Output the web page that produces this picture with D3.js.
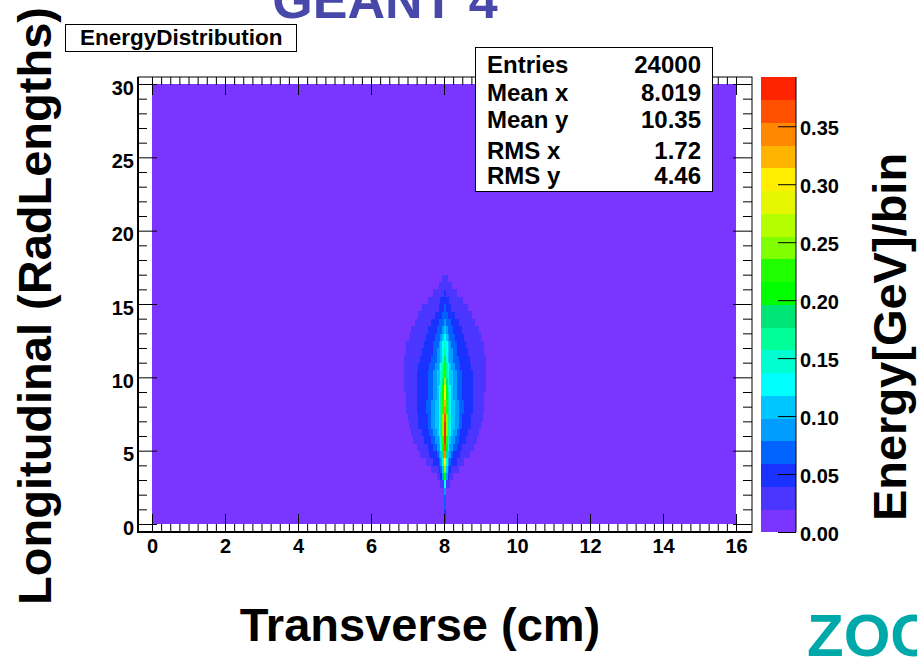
<!DOCTYPE html>
<html>
<head>
<meta charset="utf-8">
<script src="https://cdn.jsdelivr.net/npm/d3@7"></script>
<style>
  html, body { margin: 0; padding: 0; background: #ffffff; }
  svg { display: block; }
  text { font-family: "Liberation Sans", Arial, Helvetica, sans-serif; font-weight: bold; }
</style>
</head>
<body>
<svg id="chart" width="917" height="659"></svg>
<script>
// ---- histogram definition ----
const xRange = [0, 16];          // transverse, cm
const yRange = [0, 30];          // longitudinal, radiation lengths
const xBinWidth = 0.05;
const yBinWidth = 0.5;
const zMax = 0.3925;             // GeV per bin, top of the colour scale
const nLevels = 20;

// contour colours, lowest to highest
const palette = [
  "#7a36ff", "#4a36ff", "#1a32ff", "#0062ff", "#009dff",
  "#00c6ff", "#00ffff", "#00ffd0", "#00ff99", "#00e676",
  "#00ff00", "#20ff00", "#80ff00", "#b3ff00", "#e6f500",
  "#ffee00", "#ffb400", "#ff8800", "#ff5000", "#ff2400"
];

// Shower bins above the lowest contour, one entry per longitudinal bin (from y = 0 upward).
// showerFirstBin: transverse bin index of the first listed bin;
// showerLevels: contour level of each consecutive bin (0-9, then a-j for 10-19).
const showerFirstBin = [
  160, 160, 160, 160, 160, 158, 156, 153, 150, 147,
  145, 143, 142, 141, 140, 139, 139, 139, 138, 138,
  138, 138, 138, 139, 139, 141, 142, 144, 146, 148,
  151, 154, 157, 159
];
const showerLevels = [
  "2",
  "2",
  "3",
  "3",
  "4",
  "11611",
  "1124a4211",
  "1111235c5321111",
  "1111222347f7432221111",
  "1111122223459h9543222211111",
  "11111122233446aia64433222111111",
  "1111112222334457bjb7544332222111111",
  "11111122223344568cjc86544332222111111",
  "111112222233445568cjc865544332222211111",
  "1111112222233445578cic8755443322222111111",
  "11111122222333445568bhb86554433322222111111",
  "11111122222333445568bgb86554433322222111111",
  "11111122222233344568afa86544333222222111111",
  "111111122222233344567aea765443332222221111111",
  "1111111222222333445579c9755443332222221111111",
  "1111111222222333445578b8755443332222221111111",
  "1111111122222233344568a8654433322222211111111",
  "111111111222222333445797544333222222111111111",
  "1111111112222223344568654433222222111111111",
  "1111111111222223334567654333222221111111111",
  "111111111222223334565433322222111111111",
  "1111111112222233345433322222111111111",
  "111111111222233343332222111111111",
  "11111111122223332222111111111",
  "1111111112223222111111111",
  "1111111222221111111",
  "1111112111111",
  "1111111",
  "111"
];

// axis ticks
const xMajor = [0, 2, 4, 6, 8, 10, 12, 14, 16];
const xMinor = d3.range(0, 16.001, 0.25).filter(v => Math.abs(v / 2 - Math.round(v / 2)) > 1e-6);
const yMajor = [0, 5, 10, 15, 20, 25, 30];
const yMinor = d3.range(0, 30.001, 1).filter(v => v % 5 !== 0);
const zTicks = [0, 0.05, 0.10, 0.15, 0.20, 0.25, 0.30, 0.35];

// statistics box
const statsLabels = ["Entries", "Mean x", "Mean y", "RMS x", "RMS y"];
const statsValues = ["24000", "8.019", "10.35", "1.72", "4.46"];

// ---- layout ----
const svg = d3.select("#chart");
const frame = { left: 138, right: 752, top: 77, bottom: 532 };
const tickFont = 20;

const x = d3.scaleLinear().domain(xRange).range([152, 736]);
const y = d3.scaleLinear().domain(yRange).range([524, 84]);
const z = d3.scaleLinear().domain([0, zMax]).range([532, 77]);
const colour = d3.scaleQuantize().domain([0, zMax]).range(palette);

const levelOf = ch => parseInt(ch, 36);
const levelValue = lv => (lv + 0.5) * zMax / nLevels;

// expand the shower rows into cells
const cells = [];
showerLevels.forEach((row, j) => {
  row.split("").forEach((ch, k) => {
    const i = showerFirstBin[j] + k;
    cells.push({
      x0: i * xBinWidth, x1: (i + 1) * xBinWidth,
      y0: j * yBinWidth, y1: (j + 1) * yBinWidth,
      value: levelValue(levelOf(ch))
    });
  });
});

// ---- plot area ----
const plot = svg.append("g");

// every bin of the histogram sits at least in the lowest contour
plot.append("rect")
  .attr("x", x(xRange[0])).attr("y", y(yRange[1]))
  .attr("width", x(xRange[1]) - x(xRange[0]))
  .attr("height", y(yRange[0]) - y(yRange[1]))
  .attr("fill", colour(levelValue(0)));

plot.selectAll("rect.cell")
  .data(cells)
  .join("rect")
  .attr("class", "cell")
  .attr("x", d => x(d.x0))
  .attr("y", d => y(d.y1))
  .attr("width", d => x(d.x1) - x(d.x0) + 0.3)
  .attr("height", d => y(d.y0) - y(d.y1) + 0.3)
  .attr("fill", d => colour(d.value))
  .attr("shape-rendering", "crispEdges");

// ---- axes ----
const stripDomain = g => g.select(".domain").remove();
const tickStyle = g => g.selectAll(".tick line").attr("stroke", "#000").attr("stroke-width", 1);
const labelStyle = sel => sel
  .attr("font-size", tickFont).attr("font-family", "Liberation Sans, Arial, sans-serif")
  .attr("font-weight", "bold").attr("fill", "#000");

function axisGroup(axis, tx, ty) {
  return svg.append("g")
    .attr("transform", `translate(${tx},${ty})`)
    .call(axis)
    .call(stripDomain)
    .call(tickStyle);
}

// left
const yLeft = axisGroup(d3.axisLeft(y).tickValues(yMajor).tickSize(-19).tickPadding(4).tickFormat(d3.format("d")), frame.left, 0);
yLeft.selectAll("text").attr("y", 3).attr("dy", "0.35em").call(labelStyle);
axisGroup(d3.axisLeft(y).tickValues(yMinor).tickSize(-9).tickFormat(""), frame.left, 0);
// right
axisGroup(d3.axisRight(y).tickValues(yMajor).tickSize(-19).tickFormat(""), frame.right, 0);
axisGroup(d3.axisRight(y).tickValues(yMinor).tickSize(-9).tickFormat(""), frame.right, 0);
// bottom
const xBottom = axisGroup(d3.axisBottom(x).tickValues(xMajor).tickSize(-18).tickPadding(7).tickFormat(d3.format("d")), 0, frame.bottom);
xBottom.selectAll("text").attr("y", 7).attr("dy", "0.71em").call(labelStyle);
axisGroup(d3.axisBottom(x).tickValues(xMinor).tickSize(-8).tickFormat(""), 0, frame.bottom);
// top
axisGroup(d3.axisTop(x).tickValues(xMajor).tickSize(-18).tickFormat(""), 0, frame.top);
axisGroup(d3.axisTop(x).tickValues(xMinor).tickSize(-8).tickFormat(""), 0, frame.top);

// frame
svg.append("rect")
  .attr("x", frame.left).attr("y", frame.top)
  .attr("width", frame.right - frame.left).attr("height", frame.bottom - frame.top)
  .attr("fill", "none").attr("stroke", "#000").attr("stroke-width", 1);
svg.append("line")
  .attr("x1", frame.left).attr("x2", frame.left)
  .attr("y1", frame.top).attr("y2", frame.bottom + 1)
  .attr("stroke", "#000").attr("stroke-width", 2);
svg.append("line")
  .attr("x1", frame.left).attr("x2", frame.right)
  .attr("y1", frame.bottom).attr("y2", frame.bottom)
  .attr("stroke", "#000").attr("stroke-width", 2);

// ---- colour bar ----
const bar = svg.append("g");
const bands = d3.range(nLevels).map(k => ({ lo: k * zMax / nLevels, hi: (k + 1) * zMax / nLevels }));
bar.selectAll("rect")
  .data(bands)
  .join("rect")
  .attr("x", 761).attr("width", 35)
  .attr("y", d => z(d.hi))
  .attr("height", d => z(d.lo) - z(d.hi) + 0.3)
  .attr("fill", d => colour((d.lo + d.hi) / 2))
  .attr("shape-rendering", "crispEdges");
const zAxis = svg.append("g")
  .attr("transform", "translate(796,0)")
  .call(d3.axisRight(z).tickValues(zTicks).tickSize(-18).tickPadding(4).tickFormat(d3.format(".2f")))
  .call(stripDomain)
  .call(tickStyle);
zAxis.selectAll("text").attr("dy", "0.42em").attr("x", 4).call(labelStyle);
svg.append("line")
  .attr("x1", 796).attr("x2", 796).attr("y1", 77).attr("y2", 532)
  .attr("stroke", "#000").attr("stroke-width", 1);

// ---- statistics box ----
svg.append("rect")
  .attr("x", 475.5).attr("y", 47.5).attr("width", 237).attr("height", 144)
  .attr("fill", "#fff").attr("stroke", "#000").attr("stroke-width", 1);
const statBaselines = [73, 101, 128, 159, 184];
svg.selectAll("text.statLabel")
  .data(statsLabels)
  .join("text")
  .attr("class", "statLabel")
  .attr("x", 487).attr("y", (d, i) => statBaselines[i])
  .attr("font-size", 24).text(d => d);
svg.selectAll("text.statValue")
  .data(statsValues)
  .join("text")
  .attr("class", "statValue")
  .attr("x", 701).attr("y", (d, i) => statBaselines[i])
  .attr("text-anchor", "end")
  .attr("font-size", 24).text(d => d);

// ---- titles ----
svg.append("rect")
  .attr("x", 65.5).attr("y", 24.5).attr("width", 231).attr("height", 27)
  .attr("fill", "#fff").attr("stroke", "#000").attr("stroke-width", 1);
svg.append("text")
  .attr("x", 80).attr("y", 45)
  .attr("font-size", 22.5).text("EnergyDistribution");

svg.append("text")
  .attr("x", 385).attr("y", 18)
  .attr("text-anchor", "middle")
  .attr("font-size", 52).attr("fill", "#4848aa")
  .text("GEANT 4");

svg.append("text")
  .attr("transform", "translate(51,306) rotate(-90)")
  .attr("text-anchor", "middle")
  .attr("font-size", 47).text("Longitudinal (RadLengths)");

svg.append("text")
  .attr("x", 420).attr("y", 641)
  .attr("text-anchor", "middle")
  .attr("font-size", 47).text("Transverse (cm)");

svg.append("text")
  .attr("transform", "translate(906,337) rotate(-90)")
  .attr("text-anchor", "middle")
  .attr("font-size", 47).text("Energy[GeV]/bin");

svg.append("text")
  .attr("x", 807).attr("y", 656)
  .attr("font-family", "'Open Sans', sans-serif")
  .attr("font-size", 60).attr("fill", "#00a9a9")
  .text("ZOO");
</script>
</body>
</html>
